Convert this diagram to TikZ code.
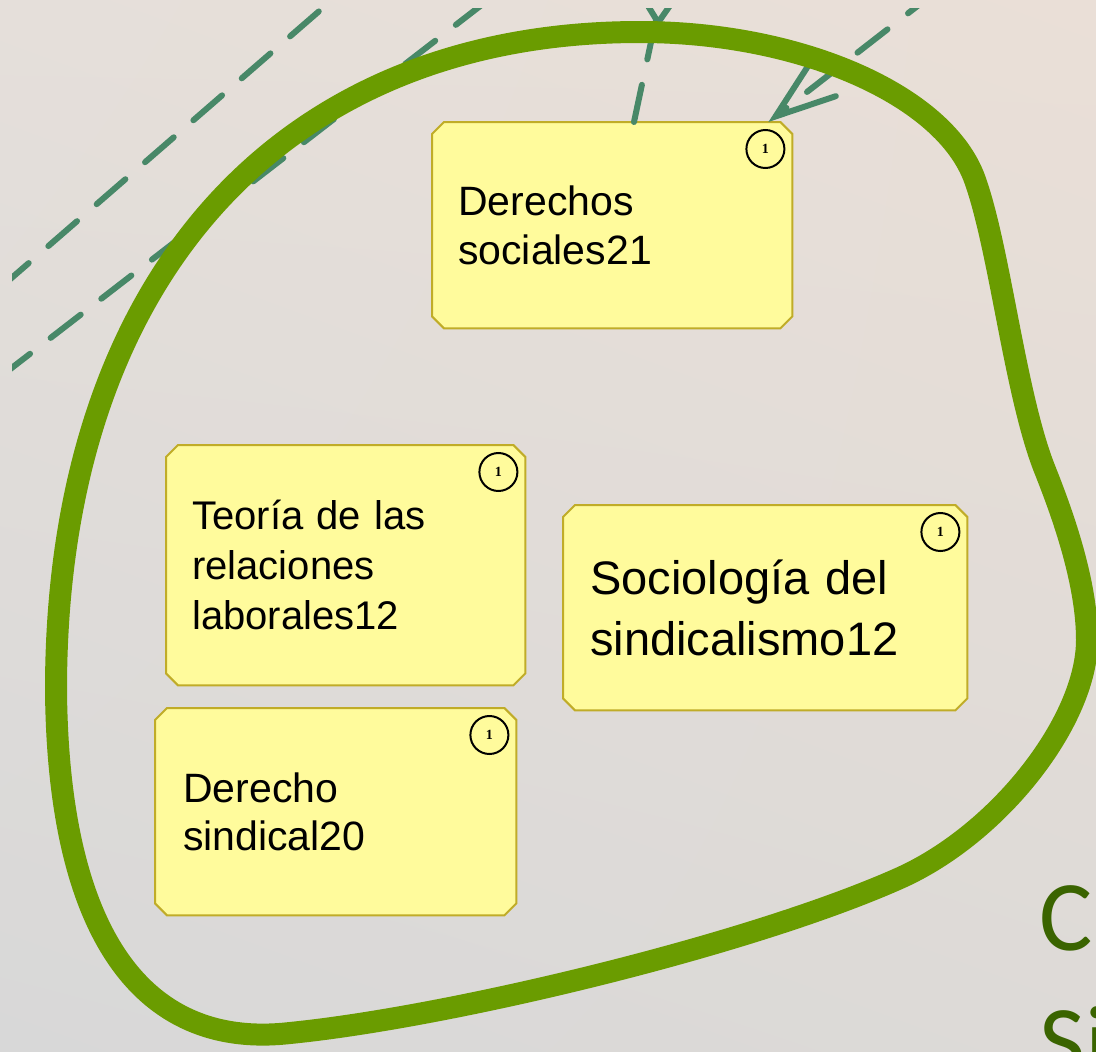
\documentclass[tikz,border=0pt]{standalone}
\usepackage{fontspec}
\setmainfont{Liberation Sans}
\newfontfamily\titlefont{Carlito}
\newfontfamily\badgefont{Liberation Serif}
\usetikzlibrary{arrows.meta,shadings}
\pgfdeclarelayer{bgshade}
\pgfdeclarelayer{boxbg}
\pgfsetlayers{bgshade,boxbg,main}
\definecolor{blobgreen}{RGB}{106,156,0}
\definecolor{dashgreen}{RGB}{72,136,104}
\definecolor{boxyellow}{RGB}{255,251,156}
\definecolor{boxedge}{RGB}{192,172,40}
\definecolor{titlegreen}{RGB}{58,100,0}
\definecolor{bgul}{RGB}{229,223,218}
\definecolor{bgur}{RGB}{234,223,215}
\definecolor{bgll}{RGB}{216,216,216}
\definecolor{bglr}{RGB}{221,218,215}
\newcommand\chamferbox[1]{%
  \draw[boxline] ([xshift=12pt]#1.north west) -- ([xshift=-12pt]#1.north east)
    -- ([yshift=-12pt]#1.north east) -- ([yshift=12pt]#1.south east)
    -- ([xshift=-12pt]#1.south east) -- ([xshift=12pt]#1.south west)
    -- ([yshift=12pt]#1.south west) -- ([yshift=-12pt]#1.north west) -- cycle;}
\begin{document}
\begin{tikzpicture}[x=1pt,y=-1pt,
  boxtext/.style={draw=none, anchor=north west, align=left, inner ysep=0pt},
  boxline/.style={draw=boxedge, line width=2pt, fill=boxyellow},
  badge/.style={circle, draw=black, line width=2pt, fill=boxyellow, minimum size=38pt, inner sep=0pt, font=\badgefont\bfseries\fontsize{14}{14}\selectfont},
  conn/.style={draw=dashgreen, line width=6pt, dash pattern=on 38pt off 26pt, line cap=round},
  blobline/.style={draw=blobgreen, line width=22pt},
  titletext/.style={anchor=base west, inner sep=0pt, text=titlegreen, font=\titlefont\fontsize{100}{100}\selectfont}
]
\begin{pgfonlayer}{bgshade}
\shade[upper left=bgul, upper right=bgur, lower left=bgll, lower right=bglr]
  (0,0) rectangle (1096,1052);
\end{pgfonlayer}
\useasboundingbox (0,0) rectangle (1096,1052);

% boxes
\node[boxtext, minimum width=360pt, minimum height=206pt, text width=308pt, inner xsep=26pt,
      font=\fontsize{41}{49}\selectfont] (b1) at (432,122) {Derechos\\sociales21};
\node[boxtext, minimum width=359pt, minimum height=240pt, text width=307pt, inner xsep=26pt,
      font=\fontsize{40}{50}\selectfont] (b2) at (166,445) {Teoría de las\\relaciones\\laborales12};
\node[boxtext, minimum width=404pt, minimum height=205pt, text width=350pt, inner xsep=27pt,
      font=\fontsize{47}{61}\selectfont] (b3) at (563,505) {Sociología del\\sindicalismo12};
\node[boxtext, minimum width=361pt, minimum height=207pt, text width=305pt, inner xsep=28pt,
      font=\fontsize{41}{48}\selectfont] (b4) at (155,708) {Derecho\\sindical20};
\begin{pgfonlayer}{boxbg}
\foreach \n in {b1,b2,b3,b4}{\chamferbox{\n}}
\end{pgfonlayer}
\foreach \n in {b1,b2,b3,b4}{
  \node[badge] (\n badge) at ([xshift=-27pt,yshift=-27pt]\n.north east) {1};
}

% free ends of connectors
\coordinate (aS) at (0,288);
\coordinate (aE) at (332,0);
\coordinate (bS) at (0,377);
\coordinate (bE) at (488,0);
\coordinate (cE) at (661,-5);
\coordinate (dS) at (938,-10);
\coordinate (vS) at (660,-40);
\coordinate (vT) at (658,28);

\begin{scope}
\clip (12,8) rectangle (1096,1052);
\draw[conn] (aS) -- (aE);
\draw[conn] (bS) -- (bE);
\draw[conn] ([xshift=202pt]b1.north west) -- (cE);
\draw[conn, -{Straight Barb[length=60pt, width=42pt, line cap=round]}] (dS) -- ([xshift=-24pt]b1.north east);
\draw[conn, -{Straight Barb[length=26pt, width=34pt, line cap=round]}] (vS) -- (vT);

% green boundary
\draw[blobline] (640,32)
  .. controls (278,32) and (56,282) .. (56,690)
  .. controls (58,930) and (140,1050) .. (290,1033)
  .. controls (450,1017) and (750,945) .. (900,878)
  .. controls (1000,833) and (1087,720) .. (1087,640)
  .. controls (1087,585) and (1065,520) .. (1045,470)
  .. controls (1015,395) and (1000,250) .. (975,180)
  .. controls (945,95) and (800,32) .. cycle;

\node[titletext] (t1) at (1039,950) {C};
\node[titletext] (t2) at (1039,1075) {Si};
\end{scope}
\end{tikzpicture}
\end{document}
